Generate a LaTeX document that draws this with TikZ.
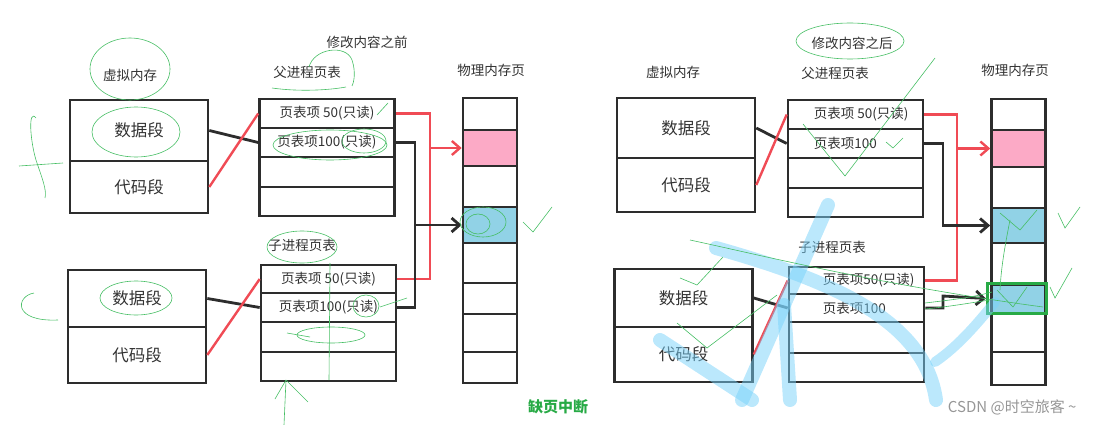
\documentclass[tikz,border=0pt]{standalone}
\usepackage{fontspec}
\newfontfamily\cjk{Noto Sans CJK SC}
\usepackage{tikz}
\usetikzlibrary{arrows.meta,positioning}
\definecolor{ink}{RGB}{45,45,45}
\definecolor{textgray}{RGB}{50,50,50}
\definecolor{redpen}{RGB}{240,75,85}
\definecolor{pagepink}{RGB}{252,170,198}
\definecolor{pageblue}{RGB}{145,210,230}
\definecolor{pengreen}{RGB}{70,190,100}
\definecolor{markgreen}{RGB}{40,170,70}
\definecolor{washblue}{RGB}{120,210,250}
\definecolor{csdngray}{RGB}{150,150,150}

\begin{document}
\begin{tikzpicture}[
        x=1pt, y={(0pt,-1pt)},
        heading/.style={
            font=\cjk\fontsize{13.5}{16}\selectfont, text=textgray, inner sep=1pt
        },
        seg/.style={
            draw=ink, line width=2.6pt, minimum width=138pt, inner sep=0pt,
            font=\cjk\fontsize{16.5}{18}\selectfont, text=textgray
        },
        pte/.style={
            draw=ink, line width=2.6pt, minimum width=135pt, inner sep=0pt,
            font=\cjk\fontsize{13.5}{16}\selectfont, text=textgray
        },
        ptetext/.style={
            font=\cjk\fontsize{13.5}{16}\selectfont, text=textgray, inner sep=0pt
        },
        page/.style={
            draw=ink, line width=2.6pt, minimum width=54pt, inner sep=0pt
        },
        blackwire/.style={draw=ink, line width=2.8pt},
        redwire/.style={draw=redpen, line width=2.4pt},
        barb/.style={-{Straight Barb[length=8pt, width=14pt]}},
        scribble/.style={draw=pengreen, line width=0.6pt},
        brush/.style={draw=washblue, line width=14pt, opacity=0.5, line cap=round}
    ]
    \useasboundingbox (0,0) rectangle (1094,425);

    % ---------------- Before the write ----------------
    \node[heading] (oldvmtitle) at (130,75) {虚拟内存};
    \node[heading] (oldstage) at (367,42) {修改内容之前};
    \node[heading] (oldptitle) at (307,72) {父进程页表};
    \node[heading] (oldctitle) at (302,245) {子进程页表};
    \node[heading] (oldphystitle) at (491,70) {物理内存页};

    % Virtual memory, parent and child
    \node[seg, minimum height=61pt] (oldpdata) at (139,130.5) {数据段};
    \node[seg, minimum height=52pt] (oldpcode) at (139,187) {代码段};
    \node[seg, minimum height=57pt] (oldcdata) at (137,298.5) {数据段};
    \node[seg, minimum height=56pt] (oldccode) at (137,355) {代码段};

    % Parent page table
    \node[pte, minimum height=29pt] (oldppte1) at (327,113.5) {页表项 50(只读)};
    \node[pte, minimum height=29pt] (oldppte2) at (327,142.5) {页表项100(只读)};
    \node[pte, minimum height=30pt] (oldppte3) at (327,172) {};
    \node[pte, minimum height=29pt] (oldppte4) at (327,201.5) {};

    % Child page table
    \node[pte, minimum height=28pt] (oldcpte1) at (328.5,279) {页表项 50(只读)};
    \node[pte, minimum height=29pt] (oldcpte2) at (328.5,307.5) {页表项100(只读)};
    \node[pte, minimum height=30pt] (oldcpte3) at (328.5,337) {};
    \node[pte, minimum height=29pt] (oldcpte4) at (328.5,366.5) {};

    % Physical pages
    \node[page, minimum height=32pt] (oldpage1) at (490,114) {};
    \node[page, minimum height=36pt, fill=pagepink] (oldpage2) at (490,148) {};
    \node[page, minimum height=41pt] (oldpage3) at (490,186.5) {};
    \node[page, minimum height=36pt, fill=pageblue] (oldpage4) at (490,225) {};
    \node[page, minimum height=40pt] (oldpage5) at (490,263) {};
    \node[page, minimum height=31pt] (oldpage6) at (490,298.5) {};
    \node[page, minimum height=38pt] (oldpage7) at (490,333) {};
    \node[page, minimum height=31pt] (oldpage8) at (490,367.5) {};

    % Segment to entry mapping
    \draw[blackwire] (oldpdata.east) -- (oldppte2.west);
    \draw[redwire] (oldpcode.east) -- (oldppte1.west);
    \draw[blackwire] (oldcdata.east) -- (oldcpte2.west);
    \draw[redwire] (oldccode.east) -- (oldcpte1.west);

    % Entries to shared pages
    \coordinate (oldredbus) at (430,148);
    \coordinate (oldblackbus) at (415,225);
    \draw[redwire] (oldppte1.east) -| (oldredbus) |- (oldcpte1.east);
    \draw[redwire, barb] (oldredbus) -- (oldpage2.west);
    \draw[blackwire] (oldppte2.east) -| (oldblackbus) |- (oldcpte2.east);
    \draw[blackwire, barb] (oldblackbus) -- (oldpage4.west);

    \node[font=\cjk\bfseries\fontsize{15}{17}\selectfont, text=markgreen] (pagefault) at (558,407) {缺页中断};

    % ---------------- After the write ----------------
    \node[heading] (newvmtitle) at (673,72) {虚拟内存};
    \node[heading] (newstage) at (852,43) {修改内容之后};
    \node[heading] (newptitle) at (835,73) {父进程页表};
    \node[heading] (newctitle) at (832,247) {子进程页表};
    \node[heading] (newphystitle) at (1015,70) {物理内存页};

    % Virtual memory, parent and child
    \node[seg, minimum height=60pt] (newpdata) at (686,128) {数据段};
    \node[seg, minimum height=54pt] (newpcode) at (686,185) {代码段};
    \node[seg, minimum height=58pt] (newcdata) at (683.5,298) {数据段};
    \node[seg, minimum height=55pt] (newccode) at (683.5,354.5) {代码段};

    % Parent page table
    \node[pte, minimum height=29pt] (newppte1) at (855.5,114.5) {};
    \node[pte, minimum height=29pt] (newppte2) at (855.5,143.5) {};
    \node[pte, minimum height=30pt] (newppte3) at (855.5,173) {};
    \node[pte, minimum height=29pt] (newppte4) at (855.5,202.5) {};
    \node[ptetext, right=27pt of newppte1.west] (newpt1) {页表项 50(只读)};
    \node[ptetext, right=27pt of newppte2.west] (newpt2) {页表项100};

    % Child page table
    \node[pte, minimum height=27pt] (newcpte1) at (856.5,280.5) {};
    \node[pte, minimum height=28pt] (newcpte2) at (856.5,308) {};
    \node[pte, minimum height=31pt] (newcpte3) at (856.5,337.5) {};
    \node[pte, minimum height=29pt] (newcpte4) at (856.5,367.5) {};
    \node[ptetext, right=35pt of newcpte1.west] (newct1) {页表项50(只读)};
    \node[ptetext, right=35pt of newcpte2.west] (newct2) {页表项100};

    % Physical pages
    \node[page, minimum height=31pt] (newpage1) at (1018.5,114.5) {};
    \node[page, minimum height=37pt, fill=pagepink] (newpage2) at (1018.5,148.5) {};
    \node[page, minimum height=41pt] (newpage3) at (1018.5,187.5) {};
    \node[page, minimum height=35pt, fill=pageblue] (newpage4) at (1018.5,225.5) {};
    \node[page, minimum height=42pt] (newpage5) at (1018.5,264) {};
    \node[page, minimum height=28pt, fill=pageblue] (newpage6) at (1018.5,299) {};
    \node[page, minimum height=39pt] (newpage7) at (1018.5,332.5) {};
    \node[page, minimum height=33pt] (newpage8) at (1018.5,368.5) {};
    \node[draw=markgreen, line width=3pt, minimum width=59pt, minimum height=30pt, inner sep=0pt] (newcopy) at (1017,298.5) {};

    % Segment to entry mapping
    \draw[blackwire] (newpdata.east) -- (newppte2.west);
    \draw[redwire] (newpcode.east) -- (newppte1.west);
    \draw[blackwire] (newcdata.east) -- (newcpte2.west);
    \draw[redwire] (newccode.east) -- (newcpte1.west);

    % Entries to pages
    \coordinate (newredbus) at (957,148.5);
    \coordinate (newpbus) at (943,225.5);
    \coordinate (newcbus) at (943,296);
    \draw[redwire] (newppte1.east) -| (newredbus) |- (newcpte1.east);
    \draw[redwire, barb] (newredbus) -- (newpage2.west);
    \draw[blackwire, barb] (newppte2.east) -| (newpbus) -- (newpage4.west);
    \draw[blackwire, barb] (newcpte2.east) -| (newcbus) -- (newcopy.west);

    % Light blue brush strokes
    \draw[brush] (828,205) -- (742,400);
    \draw[brush] (716,248) .. controls (830,280) and (925,320) .. (936,400);
    \draw[brush] (660,340) -- (752,400);
    \draw[brush] (784,305) -- (790,400);
    \draw[brush, line width=10pt] (935,362) .. controls (960,345) and (980,320) .. (995,302);

    % Green pen marks, left
    \draw[scribble] (130,69) ellipse (40 and 31);
    \draw[scribble] (136,132) ellipse (44 and 25);
    \draw[scribble] (136,298) ellipse (36 and 17);
    \draw[scribble] (36,118) .. controls (28,108) and (30,140) .. (36,160) .. controls (42,178) and (47,190) .. (45,198);
    \draw[scribble] (19,166) -- (63,163);
    \draw[scribble] (34,293) .. controls (16,296) and (12,322) .. (58,320);
    \draw[scribble] (309,67) .. controls (314,48) and (346,44) .. (352,60) .. controls (356,72) and (354,82) .. (352,86);
    \draw[scribble] (272,88) .. controls (300,92) and (330,90) .. (346,87);
    \draw[scribble] (330,145) ellipse (57 and 15);
    \draw[scribble] (364,141) ellipse (22 and 12);
    \draw[scribble] (377,115) -- (388,103);
    \draw[scribble] (302,247) ellipse (35 and 16);
    \draw[scribble] (331,335) ellipse (34 and 8);
    \draw[scribble] (287,333) -- (310,337);
    \draw[scribble] (330,263) -- (329,380);
    \draw[scribble] (366,306) ellipse (13 and 11);
    \draw[scribble] (380,307) -- (407,298);
    \draw[scribble] (286,380) -- (284,425);
    \draw[scribble] (286,380) -- (275,399);
    \draw[scribble] (286,380) -- (308,402);
    \draw[scribble] (483,222) ellipse (23 and 15);
    \draw[scribble] (478,224) ellipse (12 and 10);
    \draw[scribble] (523,222) -- (533,232) -- (552,207);

    % Green pen marks, right
    \draw[scribble] (850,41) ellipse (54 and 18);
    \draw[scribble] (803,124) -- (845,176) -- (935,58);
    \draw[scribble] (886,142) -- (893,148) -- (903,138);
    \draw[scribble] (1058,213) -- (1065,228) -- (1080,207);
    \draw[scribble] (1050,287) -- (1055,298) -- (1072,268);
    \draw[scribble] (680,278) -- (697,285) -- (723,257);
    \draw[scribble] (677,323) -- (707,348) -- (777,295);
    \draw[scribble] (690,240) .. controls (760,255) and (880,285) .. (1043,307);
    \draw[scribble] (925,303) .. controls (950,300) and (970,298) .. (992,292);
    \draw[scribble] (925,309) .. controls (955,306) and (975,302) .. (990,300);
    \draw[scribble] (1000,213) -- (1020,230) -- (1037,210);
    \draw[scribble] (997,290) -- (1013,307) -- (1027,287);
    \draw[scribble] (1010,220) .. controls (1004,250) and (1001,270) .. (1000,290);

    % Watermark
    \node[font=\cjk\fontsize{15}{17}\selectfont, text=csdngray, anchor=east] (csdn) at (1080,407) {CSDN @时空旅客 \textasciitilde};
\end{tikzpicture}
\end{document}
